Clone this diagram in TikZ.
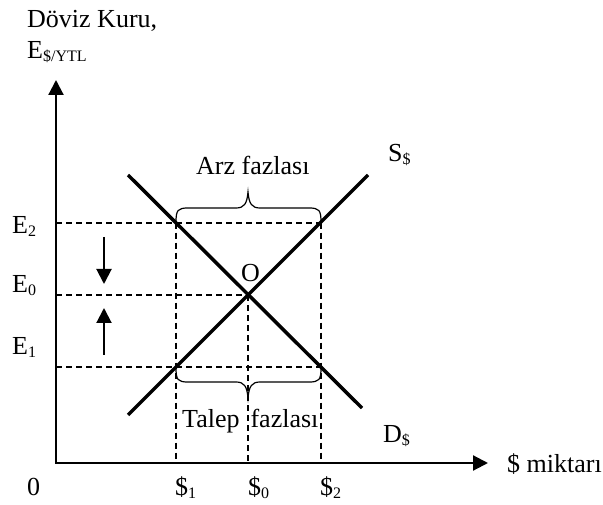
\documentclass[tikz,border=0pt]{standalone}
\usepackage{fontspec}
\setmainfont{Liberation Serif}
\usetikzlibrary{arrows.meta}
\newcommand{\lowidx}[1]{\raisebox{-3pt}{\fontsize{16}{18}\selectfont #1}}

\begin{document}
\begin{tikzpicture}[x=1pt,y=-1pt,
  txt/.style={inner sep=0pt,anchor=base west,font=\fontsize{26}{30}\selectfont},
  curve/.style={line width=3.5pt},
  axis/.style={line width=2.2pt,{Triangle[length=15pt,width=15pt]}-{Triangle[length=15pt,width=15pt]}},
  guide/.style={line width=1.8pt,dash pattern=on 6pt off 4pt},
  move/.style={line width=2pt,-{Triangle[length=15pt,width=15pt]}},
  curly/.style={line width=1.2pt}]
  \useasboundingbox (0,0) rectangle (603,505);
  % axes
  \coordinate (org) at (56,463);
  \coordinate (ytip) at (56,80);
  \coordinate (xtip) at (488,463);
  \draw[axis] (ytip) -- (org) -- (xtip);
  % key points
  \coordinate (O) at (248,295);
  \coordinate (d2) at (176,222.7);
  \coordinate (s2) at (321,222.7);
  \coordinate (s1) at (176,367);
  \coordinate (d1) at (321,367);
  % dashed guides
  \draw[guide] (org |- d2) -- (s2);
  \draw[guide] (org |- O) -- (O);
  \draw[guide] (org |- s1) -- (d1);
  \draw[guide] (d2) -- (d2 |- org);
  \draw[guide] (O) -- (O |- org);
  \draw[guide] (s2) -- (s2 |- org);
  % supply and demand
  \coordinate (dstart) at (128,175);
  \coordinate (dend) at (362,408);
  \coordinate (sstart) at (128,415);
  \coordinate (send) at (368,175);
  \draw[curve] (dstart) -- (dend);
  \draw[curve] (sstart) -- (send);
  % braces
  \draw[curly] (176,222) .. controls (176,210) and (178,208) .. (188,208) -- (236,208)
    .. controls (244,208) and (247,204) .. (248,192)
    .. controls (249,204) and (252,208) .. (260,208) -- (309,208)
    .. controls (319,208) and (321,210) .. (321,222);
  \draw[curly] (176,368) .. controls (176,380) and (178,382) .. (188,382) -- (236,382)
    .. controls (244,382) and (247,386) .. (248,398)
    .. controls (249,386) and (252,382) .. (260,382) -- (309,382)
    .. controls (319,382) and (321,380) .. (321,368);
  % adjustment arrows
  \coordinate (dtop) at (104,237);
  \coordinate (dtip) at (104,284);
  \coordinate (ubot) at (104,355);
  \coordinate (utip) at (104,308);
  \draw[move] (dtop) -- (dtip);
  \draw[move] (ubot) -- (utip);
  % labels
  \node[txt] (title) at (27,28) {Döviz Kuru,};
  \node[txt] (ylab) at (27,59) {E\lowidx{\$/YTL}};
  \node[txt] (e2) at (12,234) {E\lowidx{2}};
  \node[txt] (e0) at (12,293) {E\lowidx{0}};
  \node[txt] (e1) at (12,355) {E\lowidx{1}};
  \node[txt] (zero) at (27,495) {0};
  \node[txt] (q1) at (175,495) {\$\lowidx{1}};
  \node[txt] (q0) at (248,495) {\$\lowidx{0}};
  \node[txt] (q2) at (320,495) {\$\lowidx{2}};
  \node[txt] (xlab) at (507,472) {\$ miktarı};
  \node[txt] (slab) at (388,162) {S\lowidx{\$}};
  \node[txt] (dlab) at (383,442) {D\lowidx{\$}};
  \node[txt] (olab) at (241,282) {O};
  \node[txt] (arz) at (196,175) {Arz fazlası};
  \node[txt] (talep) at (182,427) {Talep\hspace{11pt}fazlası};
\end{tikzpicture}
\end{document}
